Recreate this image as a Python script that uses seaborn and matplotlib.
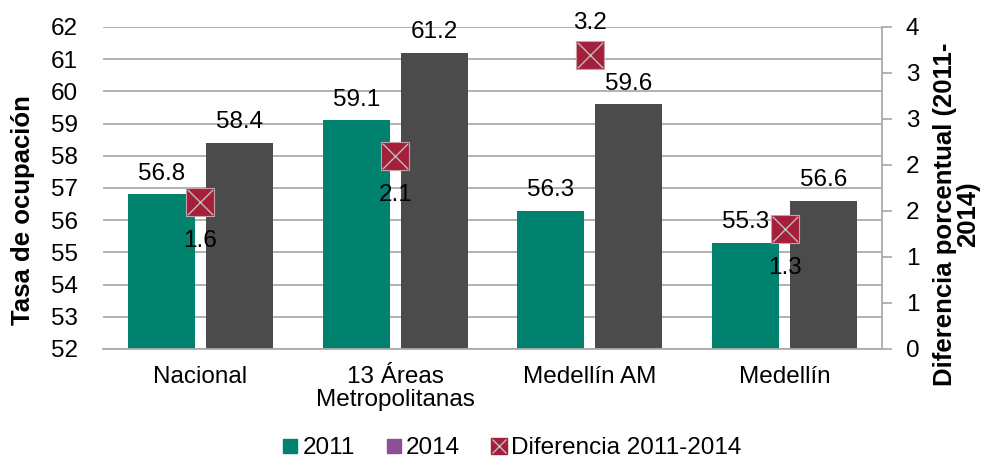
import numpy as np
import pandas as pd
import seaborn as sns
import matplotlib.pyplot as plt
from matplotlib.lines import Line2D
from matplotlib.ticker import FixedLocator, FuncFormatter

categories = ["Nacional", "13 Áreas\nMetropolitanas", "Medellín AM", "Medellín"]
tasa_2011 = [56.8, 59.1, 56.3, 55.3]
tasa_2014 = [58.4, 61.2, 59.6, 56.6]
diferencia = [1.6, 2.1, 3.2, 1.3]

teal = "#00826F"
gris = "#4B4B4B"
morado = "#8B4E98"
rojo = "#A51E3A"
linea = "#ABABAB"

sns.set_theme(style="white")
plt.rcParams["font.family"] = ["Liberation Sans", "DejaVu Sans"]
plt.rcParams["text.color"] = "black"

data = pd.DataFrame({
    "cat": categories * 2,
    "anio": ["2011"] * 4 + ["2014"] * 4,
    "tasa": tasa_2011 + tasa_2014,
})

fs = 17.5

fig = plt.figure(figsize=(9.9, 4.62), dpi=100)
ax = fig.add_axes([0.104, 0.2446, 0.787, 0.697])

sns.barplot(data=data, x="cat", y="tasa", hue="anio", palette=[teal, gris],
            saturation=1, width=0.8, gap=0.14, linewidth=0, ax=ax, legend=False,
            zorder=2)
ax.set_ylim(52, 62)
ax.set_yticks(range(52, 63))
ax.yaxis.grid(True, color=linea, lw=1.3, zorder=0)
ax.set_axisbelow(True)
ax.set_xlabel("")
ax.set_ylabel("")
ax.tick_params(axis="both", labelsize=fs, length=0, colors="black")
ax.tick_params(axis="y", pad=18)
ax.tick_params(axis="x", pad=12)
for lab in ax.get_xticklabels():
    lab.set_linespacing(1.05)
for s in ["top", "left", "right"]:
    ax.spines[s].set_visible(False)
ax.spines["bottom"].set_color(linea)
ax.spines["bottom"].set_linewidth(1.3)

for cont in ax.containers:
    ax.bar_label(cont, fmt="%.1f", padding=7, fontsize=fs, color="black")

ax2 = ax.twinx()
ax2.set_ylim(0, 3.5)
ax2.yaxis.set_major_locator(FixedLocator(np.arange(0, 3.51, 0.5)))
ax2.yaxis.set_major_formatter(FuncFormatter(lambda v, p: f"{int(np.floor(v + 0.5))}"))
ax2.tick_params(axis="y", labelsize=fs, length=7, color=linea, width=1.3, pad=10,
                labelcolor="black")
for s in ["top", "left", "bottom"]:
    ax2.spines[s].set_visible(False)
ax2.spines["right"].set_color(linea)
ax2.spines["right"].set_linewidth(1.3)

xpos = np.arange(len(categories))
ax2.scatter(xpos, diferencia, marker="s", s=410, color=rojo, edgecolor="#C9A0A8",
            linewidth=0.8, zorder=3)
ax2.scatter(xpos, diferencia, marker="x", s=330, color="#BDBDBD", linewidth=1.0, zorder=4)
for i, v in enumerate(diferencia):
    off = 23 if v == max(diferencia) else -28
    ax2.annotate(f"{v:.1f}", (xpos[i], v), xytext=(0, off), textcoords="offset points",
                 ha="center", va="center", fontsize=fs, color="black")
ax.set_xlim(-0.5, len(categories) - 0.5)

fig.text(0.023, 0.545, "Tasa de ocupación", rotation=90, ha="center", va="center",
         fontsize=18.5, fontweight="bold")
fig.text(0.966, 0.537, "Diferencia porcentual (2011-\n2014)", rotation=90, ha="center",
         va="center", fontsize=18.5, fontweight="bold", linespacing=0.95)

handles = [
    Line2D([], [], marker="s", ls="", color=teal, markersize=10),
    Line2D([], [], marker="s", ls="", color=morado, markersize=10),
    (Line2D([], [], marker="s", ls="", color=rojo, markersize=11),
     Line2D([], [], marker="x", ls="", color="#BDBDBD", markersize=10, mew=1.0)),
]
fig.legend(handles, ["2011", "2014", "Diferencia 2011-2014"], loc="center",
           bbox_to_anchor=(0.516, 0.03), ncol=3, frameon=False, fontsize=fs,
           handletextpad=0.1, columnspacing=1.2, handlelength=0.8)

fig.savefig("out.png", dpi=100)
